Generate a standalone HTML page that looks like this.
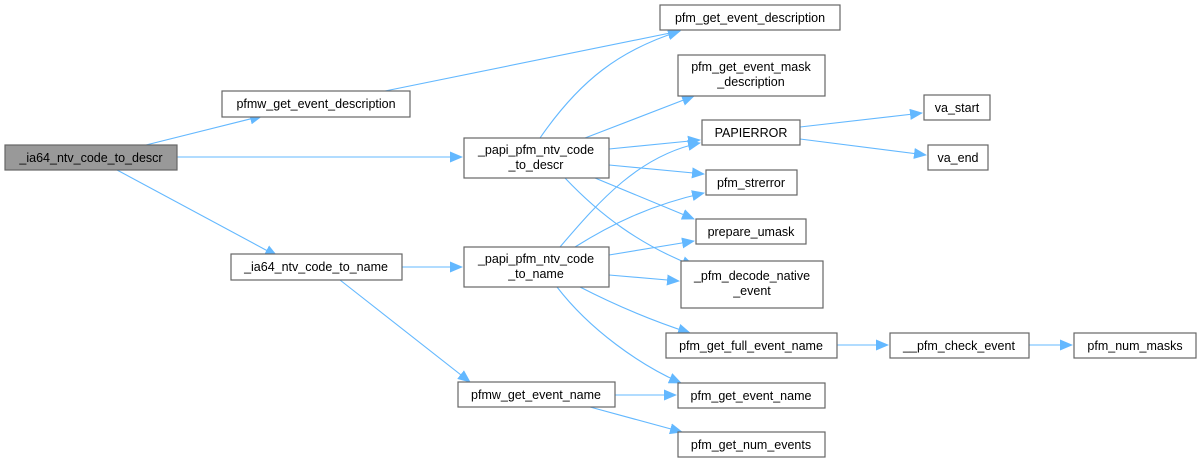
<!DOCTYPE html>
<html><head><meta charset="utf-8"><style>
html,body{margin:0;padding:0;background:#fff;}
svg{display:block;}
text{font-family:"Liberation Sans",Arial,sans-serif;font-size:12.5px;fill:#000;text-anchor:middle;}
.n{fill:#fff;stroke:#666;stroke-width:1.2;}
.e{fill:none;stroke:#63b8ff;stroke-width:1.1;}
</style></head><body>
<svg width="1203" height="463" viewBox="0 0 1203 463" xmlns="http://www.w3.org/2000/svg">
<defs><marker id="a" markerWidth="13" markerHeight="11" refX="12" refY="5.5" orient="auto" markerUnits="userSpaceOnUse"><path d="M0,0 L13,5.5 L0,11 z" fill="#63b8ff"/></marker></defs>
<g class="edges">
<path class="e" marker-end="url(#a)" d="M146,145 L262,116"/>
<path class="e" marker-end="url(#a)" d="M177,157 L462,157"/>
<path class="e" marker-end="url(#a)" d="M117,170 L277,256"/>
<path class="e" marker-end="url(#a)" d="M385,91 L680,31"/>
<path class="e" marker-end="url(#a)" d="M402,267 L462,267"/>
<path class="e" marker-end="url(#a)" d="M340,280 L470,382"/>
<path class="e" marker-end="url(#a)" d="M540,138 C580,80 620,50 680,31"/>
<path class="e" marker-end="url(#a)" d="M585,138 L694,96"/>
<path class="e" marker-end="url(#a)" d="M609,149 L700,140"/>
<path class="e" marker-end="url(#a)" d="M609,165 L704,174"/>
<path class="e" marker-end="url(#a)" d="M595,178 L694,219"/>
<path class="e" marker-end="url(#a)" d="M565,178 C600,215 640,245 694,266"/>
<path class="e" marker-end="url(#a)" d="M560,247 C600,200 640,155 700,143"/>
<path class="e" marker-end="url(#a)" d="M575,247 C610,225 650,205 704,193"/>
<path class="e" marker-end="url(#a)" d="M609,255 L694,241"/>
<path class="e" marker-end="url(#a)" d="M609,275 L679,281"/>
<path class="e" marker-end="url(#a)" d="M580,287 C615,305 650,320 690,333"/>
<path class="e" marker-end="url(#a)" d="M557,287 C590,330 640,365 681,383"/>
<path class="e" marker-end="url(#a)" d="M615,395 L676,395"/>
<path class="e" marker-end="url(#a)" d="M590,407 L682,432"/>
<path class="e" marker-end="url(#a)" d="M800,127 L922,113"/>
<path class="e" marker-end="url(#a)" d="M800,139 L926,155"/>
<path class="e" marker-end="url(#a)" d="M837,345 L888,345"/>
<path class="e" marker-end="url(#a)" d="M1029,345 L1072,345"/>
</g>
<g>
<rect x="5" y="145" width="172" height="25" fill="#999" stroke="#666" stroke-width="1.2"/><text x="91" y="162">_ia64_ntv_code_to_descr</text>
<rect class="n" x="222" y="91" width="188" height="26"/><text x="316" y="108">pfmw_get_event_description</text>
<rect class="n" x="464" y="138" width="145" height="40"/><text x="536" y="154">_papi_pfm_ntv_code</text><text x="536" y="169">_to_descr</text>
<rect class="n" x="231" y="254" width="171" height="26"/><text x="316" y="271">_ia64_ntv_code_to_name</text>
<rect class="n" x="464" y="247" width="145" height="40"/><text x="536" y="263">_papi_pfm_ntv_code</text><text x="536" y="278">_to_name</text>
<rect class="n" x="458" y="382" width="157" height="25"/><text x="536" y="399">pfmw_get_event_name</text>
<rect class="n" x="660" y="5" width="180" height="25"/><text x="750" y="22">pfm_get_event_description</text>
<rect class="n" x="678" y="55" width="147" height="41"/><text x="751" y="71">pfm_get_event_mask</text><text x="751" y="86">_description</text>
<rect class="n" x="702" y="120" width="98" height="25"/><text x="751" y="137">PAPIERROR</text>
<rect class="n" x="924" y="95" width="66" height="25"/><text x="957" y="112">va_start</text>
<rect class="n" x="928" y="145" width="60" height="25"/><text x="958" y="162">va_end</text>
<rect class="n" x="706" y="170" width="91" height="25"/><text x="751" y="187">pfm_strerror</text>
<rect class="n" x="696" y="219" width="110" height="25"/><text x="751" y="236">prepare_umask</text>
<rect class="n" x="681" y="261" width="142" height="47"/><text x="752" y="280">_pfm_decode_native</text><text x="752" y="295">_event</text>
<rect class="n" x="666" y="333" width="171" height="25"/><text x="751" y="350">pfm_get_full_event_name</text>
<rect class="n" x="890" y="333" width="139" height="25"/><text x="959" y="350">__pfm_check_event</text>
<rect class="n" x="1074" y="333" width="122" height="25"/><text x="1135" y="350">pfm_num_masks</text>
<rect class="n" x="678" y="383" width="147" height="25"/><text x="751" y="400">pfm_get_event_name</text>
<rect class="n" x="678" y="432" width="147" height="25"/><text x="751" y="449">pfm_get_num_events</text>
</g>
</svg>
</body></html>
